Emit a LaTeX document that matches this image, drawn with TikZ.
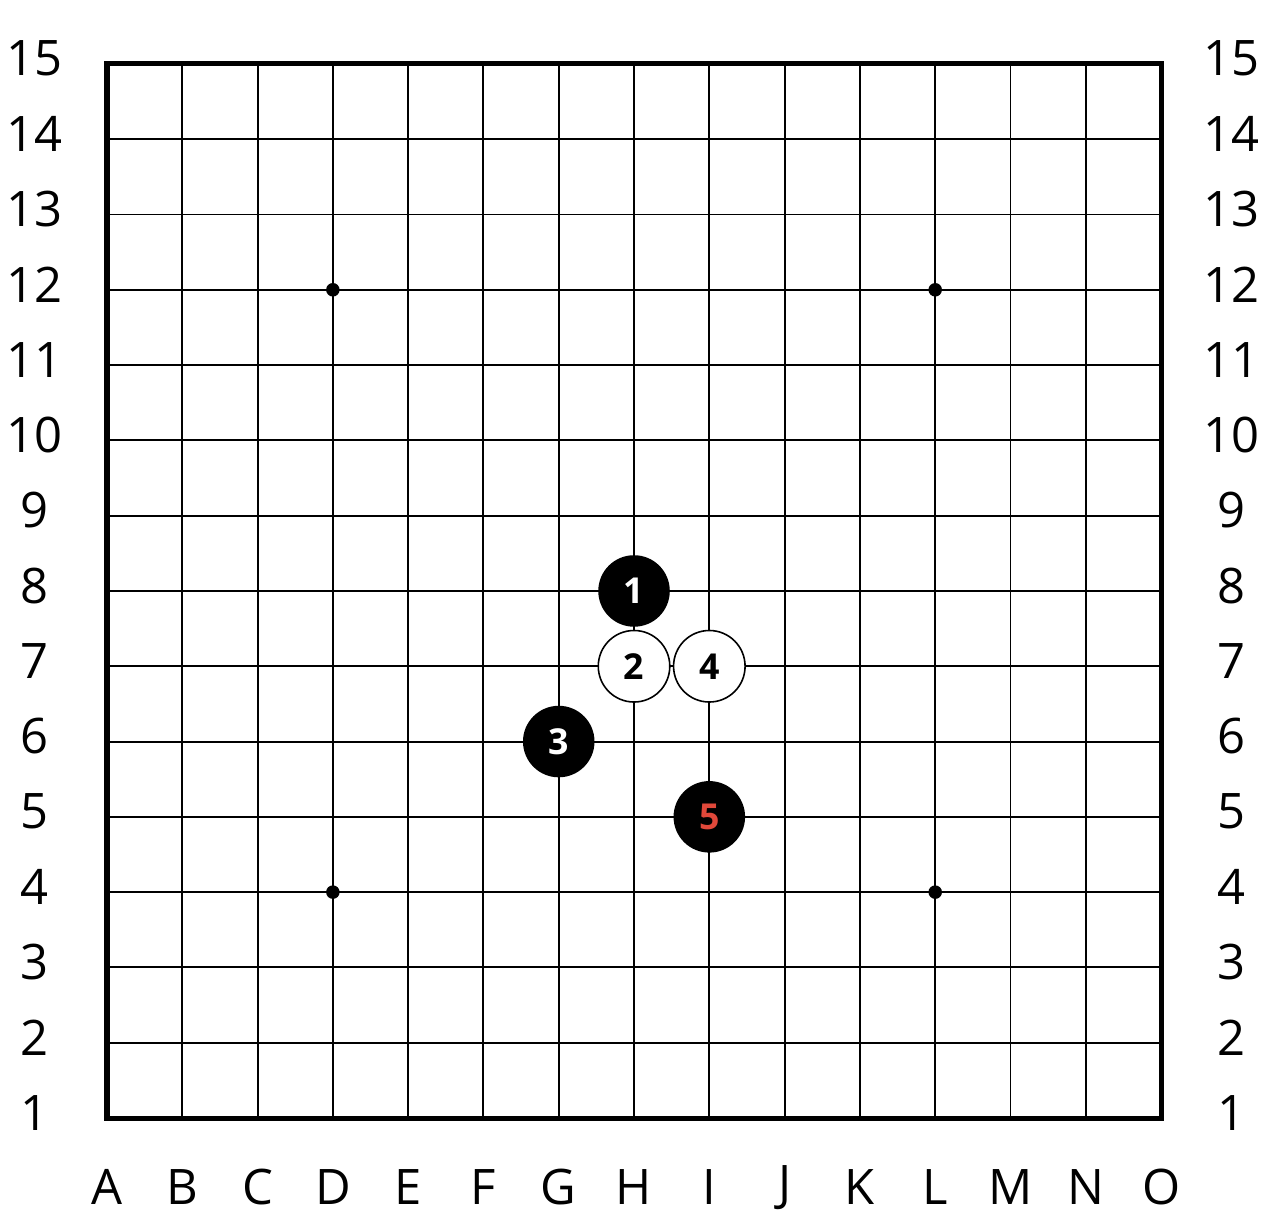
\documentclass[tikz,border=0pt]{standalone}
\usepackage{fontspec}
\setmainfont{Open Sans}
\usepackage{xcolor}
\usetikzlibrary{positioning}
\definecolor{lastred}{HTML}{E0483A}
\tikzset{
  stone/.style={circle,minimum size=0.95cm,inner sep=0pt,font=\bfseries\fontsize{13.5}{13.5}\selectfont},
  blackstone/.style={stone,fill=black,text=white},
  whitestone/.style={stone,draw=black,line width=0.6pt,fill=white,text=black},
  rowlabel/.style={font=\fontsize{18.5}{18.5}\selectfont},
  star/.style={circle,fill=black,minimum size=0.18cm,inner sep=0pt}
}
\begin{document}
\begin{tikzpicture}
\useasboundingbox (-1.421,-1.421) rectangle (15.407,14.849);
% board lines
\foreach \i in {1,...,13} {
    \draw[line width=0.75pt] (\i,0) -- (\i,14);
    \draw[line width=0.75pt] (0,\i) -- (14,\i);
}
\draw[line width=1.9pt] (0,0) rectangle (14,14);
% star points
\foreach \x/\y in {3/3,11/3,3/11,11/11}
    \node[star] (s\x\y) at (\x,\y) {};
% coordinates
\foreach \n in {1,...,15} {
    \node[rowlabel] (l\n) at (-0.96,\n-0.93) {\n};
    \node[rowlabel] (r\n) at (14.94,\n-0.93) {\n};
}
\foreach \c [count=\k from 0] in {A,B,C,D,E,F,G,H,I,J,K,L,M,N,O}
    \node[rowlabel] (c\c) at (\k,-0.92) {\c};
% moves
\begin{scope}
    \node[blackstone] (m1) at (7,7) {1};
    \node[whitestone] (m2) at (7,6) {2};
    \node[blackstone] (m3) at (6,5) {3};
    \node[whitestone] (m4) at (8,6) {4};
    \node[blackstone,text=lastred] (m5) at (8,4) {5};
\end{scope}
\end{tikzpicture}
\end{document}
